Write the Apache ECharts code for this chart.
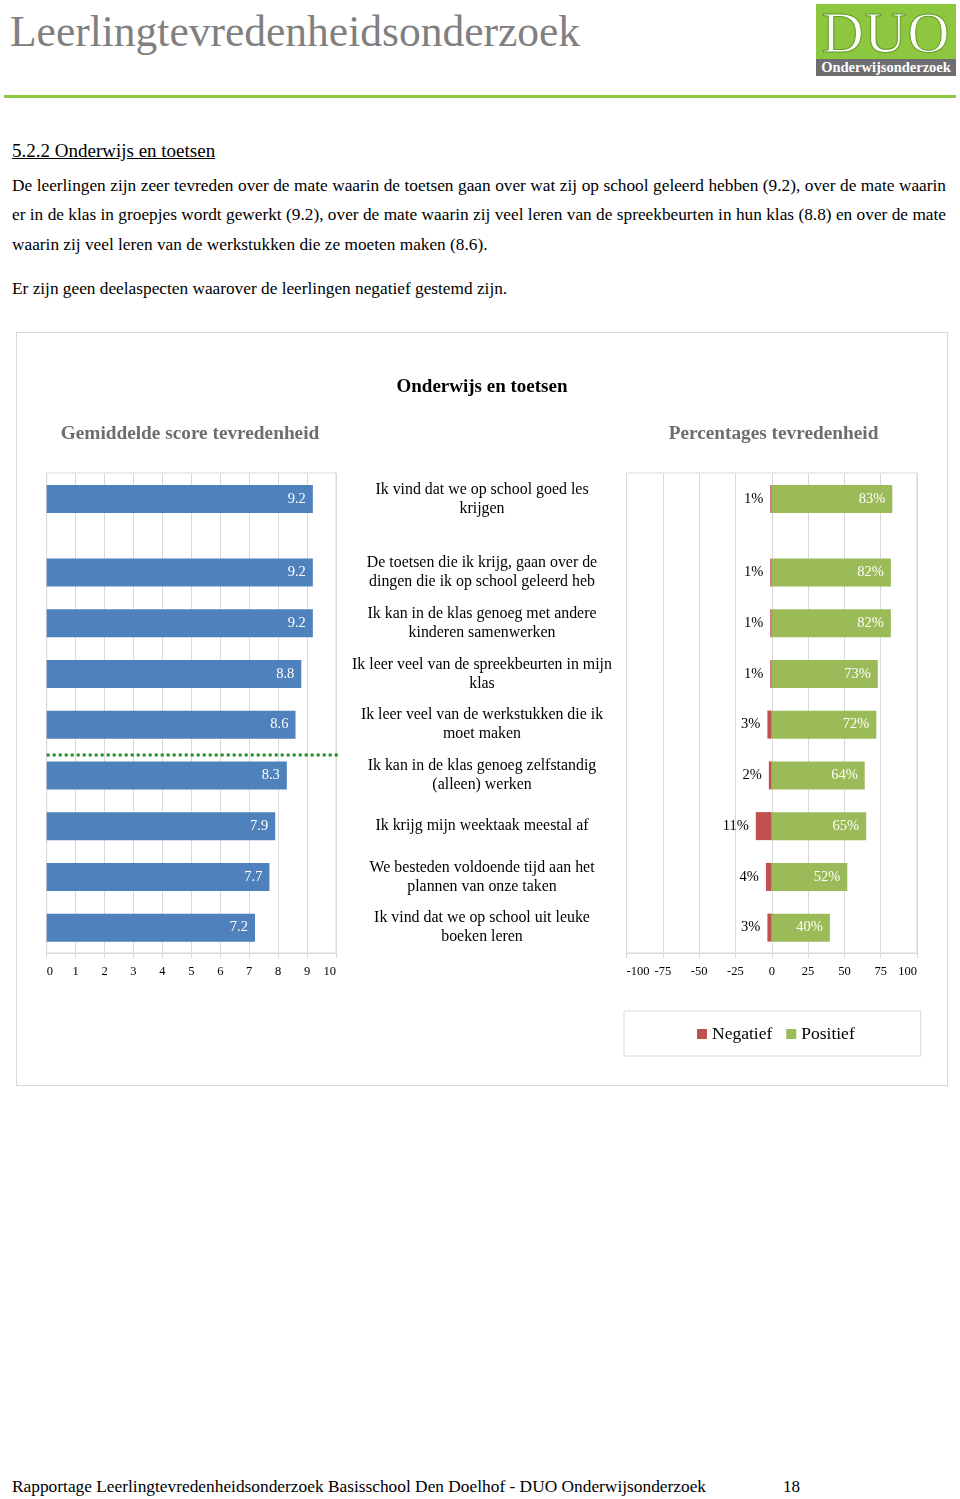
<!DOCTYPE html>
<html>
<head>
<meta charset="utf-8">
<script src="https://cdn.jsdelivr.net/npm/echarts@6/dist/echarts.min.js"></script>
<style>
  html, body { margin: 0; padding: 0; background: #fff; }
  body { width: 960px; height: 1499px; position: relative; font-family: "Liberation Serif", "Times New Roman", serif; color: #000; }
  .abs { position: absolute; white-space: nowrap; }
  #title { left: 10px; top: 6px; font-size: 43.5px; color: #808080; line-height: 50px; }
  #rule { left: 4px; top: 95px; width: 952px; height: 3px; background: #8dc63f; }
  #logo { left: 816px; top: 4px; width: 140px; height: 72px; background: #8dc63f; }
  #logo .duo { position: absolute; left: 0; top: 1px; width: 140px; text-align: center; font-size: 58px; line-height: 56px; color: #fff; letter-spacing: 1px; -webkit-text-stroke: 1px #5f9a22; font-family: "Liberation Serif", serif; }
  #logo .band { position: absolute; left: 0; top: 55px; width: 140px; height: 17px; background: #6d6e71; color: #fff; font-weight: bold; font-size: 14.5px; line-height: 17px; text-align: center; }
  #h3 { left: 12px; top: 139px; font-size: 19px; text-decoration: underline; line-height: 24px; }
  .line { position: absolute; left: 12px; width: 934px; font-size: 17.3px; line-height: 20px; text-align: justify; text-align-last: justify; white-space: nowrap; }
  .plain { position: absolute; left: 12px; font-size: 17.3px; line-height: 20px; white-space: nowrap; }
  #box { position: absolute; left: 16px; top: 332px; width: 930px; height: 752px; border: 1px solid #d9d9d9; }
  #chart { width: 930px; height: 752px; }
  #footer { left: 12px; top: 1477px; font-size: 17.35px; line-height: 20px; }
  #page { left: 783px; top: 1477px; font-size: 17px; line-height: 20px; }
</style>
</head>
<body>
<div class="abs" id="title">Leerlingtevredenheidsonderzoek</div>
<div class="abs" id="logo"><div class="duo">DUO</div><div class="band">Onderwijsonderzoek</div></div>
<div class="abs" id="rule"></div>
<div class="abs" id="h3">5.2.2 Onderwijs en toetsen</div>
<div class="line" style="top:176px">De leerlingen zijn zeer tevreden over de mate waarin de toetsen gaan over wat zij op school geleerd hebben (9.2), over de mate waarin</div>
<div class="line" style="top:205px">er in de klas in groepjes wordt gewerkt (9.2), over de mate waarin zij veel leren van de spreekbeurten in hun klas (8.8) en over de mate</div>
<div class="plain" style="top:235px">waarin zij veel leren van de werkstukken die ze moeten maken (8.6).</div>
<div class="plain" style="top:279px">Er zijn geen deelaspecten waarover de leerlingen negatief gestemd zijn.</div>
<div id="box"><div id="chart"></div></div>
<div class="abs" id="footer">Rapportage Leerlingtevredenheidsonderzoek Basisschool Den Doelhof - DUO Onderwijsonderzoek</div>
<div class="abs" id="page">18</div>
<script>
// ---- data ----
const statements = [
  "Ik vind dat we op school goed les\nkrijgen",
  "De toetsen die ik krijg, gaan over de\ndingen die ik op school geleerd heb",
  "Ik kan in de klas genoeg met andere\nkinderen samenwerken",
  "Ik leer veel van de spreekbeurten in mijn\nklas",
  "Ik leer veel van de werkstukken die ik\nmoet maken",
  "Ik kan in de klas genoeg zelfstandig\n(alleen) werken",
  "Ik krijg mijn weektaak meestal af",
  "We besteden voldoende tijd aan het\nplannen van onze taken",
  "Ik vind dat we op school uit leuke\nboeken leren"
];
const meanScores = [9.2, 9.2, 9.2, 8.8, 8.6, 8.3, 7.9, 7.7, 7.2];
const negativePct = [1, 1, 1, 1, 3, 2, 11, 4, 3];
const positivePct = [83, 82, 82, 73, 72, 64, 65, 52, 40];
const scoreTicks = { min: 0, max: 10, interval: 1 };
const pctTicks = { min: -100, max: 100, interval: 25 };
const dividerAfter = 4; // dotted line below this statement index
const seriesNames = ["Negatief", "Positief"];

// ---- styles ----
const FONT = "Liberation Serif";
const BLUE = "#4f81bd", RED = "#c0504d", GREEN = "#9bbb59", GRIDC = "#d9d9d9";

const chart = echarts.init(document.getElementById("chart"));

const L = { left: 29.7, width: 289.3 };
const R = { left: 609.5, width: 290.5 };
const topAll = 140, hAll = 480;
const top1 = 140, h1 = 52;
const top2 = 214, h2 = 406;

const headMeans = meanScores.slice(0, 1), restMeans = meanScores.slice(1);
const headNeg = negativePct.slice(0, 1).map(v => -v), restNeg = negativePct.slice(1).map(v => -v);
const headPos = positivePct.slice(0, 1), restPos = positivePct.slice(1);
const headCat = statements.slice(0, 1), restCat = statements.slice(1);

function bgX(gi, t) {
  return {
    gridIndex: gi, type: "value", min: t.min, max: t.max, interval: t.interval,
    axisLine: { show: true, lineStyle: { color: GRIDC } },
    axisTick: { show: true, length: 5, lineStyle: { color: GRIDC } },
    axisLabel: { color: "#000", fontFamily: FONT, fontSize: 12.5, margin: 12, alignMinLabel: "left", alignMaxLabel: "right" },
    splitLine: { show: true, lineStyle: { color: GRIDC } }
  };
}
function hiddenX(gi, t) {
  return { gridIndex: gi, type: "value", min: t.min, max: t.max, show: false, splitLine: { show: false } };
}
function catY(gi, cats, showLabels) {
  return {
    gridIndex: gi, type: "category", data: cats, inverse: true,
    axisLine: { show: false }, axisTick: { show: false }, splitLine: { show: false },
    axisLabel: showLabels ? {
      show: true, color: "#000", fontFamily: FONT, fontSize: 15.9, lineHeight: 19,
      align: "center", margin: R.left - 465
    } : { show: false }
  };
}

const meanLabel = { show: true, position: "insideRight", distance: 7, color: "#fff", fontFamily: FONT, fontSize: 14.5, formatter: p => p.value.toFixed(1) };
const negLabel = { show: true, position: "left", distance: 7, color: "#000", fontFamily: FONT, fontSize: 14.5, formatter: p => Math.abs(p.value) + "%" };
const posLabel = { show: true, position: "insideRight", distance: 7, color: "#fff", fontFamily: FONT, fontSize: 14.5, formatter: p => p.value + "%" };

const option = {
  animation: false,
  title: [
    { text: "Onderwijs en toetsen", left: 465, top: 45, textAlign: "center", padding: 0,
      textStyle: { fontFamily: FONT, fontSize: 19, fontWeight: "bold", color: "#000" } },
    { text: "Gemiddelde score tevredenheid", left: 173, top: 92, textAlign: "center", padding: 0,
      textStyle: { fontFamily: FONT, fontSize: 19.3, fontWeight: "bold", color: "#6e6e6e" } },
    { text: "Percentages tevredenheid", left: 756.5, top: 92, textAlign: "center", padding: 0,
      textStyle: { fontFamily: FONT, fontSize: 19.3, fontWeight: "bold", color: "#6e6e6e" } }
  ],
  legend: {
    data: seriesNames, left: 607, top: 678,
    icon: "rect", itemWidth: 10, itemHeight: 10, itemGap: 14,
    padding: [14, 66, 13, 73], borderColor: GRIDC, borderWidth: 1,
    textStyle: { fontFamily: FONT, fontSize: 17.5, color: "#000" }
  },
  grid: [
    { left: L.left, top: topAll, width: L.width, height: hAll, show: true, borderColor: GRIDC, borderWidth: 1 },
    { left: L.left, top: top1, width: L.width, height: h1 },
    { left: L.left, top: top2, width: L.width, height: h2 },
    { left: R.left, top: topAll, width: R.width, height: hAll, show: true, borderColor: GRIDC, borderWidth: 1 },
    { left: R.left, top: top1, width: R.width, height: h1 },
    { left: R.left, top: top2, width: R.width, height: h2 }
  ],
  xAxis: [
    bgX(0, scoreTicks), hiddenX(1, scoreTicks), hiddenX(2, scoreTicks),
    bgX(3, pctTicks), hiddenX(4, pctTicks), hiddenX(5, pctTicks)
  ],
  yAxis: [
    { gridIndex: 0, type: "value", min: 0, max: 1, show: false, splitLine: { show: false } },
    catY(1, headCat, false), catY(2, restCat, false),
    { gridIndex: 3, type: "value", min: 0, max: 1, show: false, splitLine: { show: false } },
    catY(4, headCat, true), catY(5, restCat, true)
  ],
  series: [
    { type: "bar", name: "Gemiddelde", xAxisIndex: 1, yAxisIndex: 1, data: headMeans, barWidth: 28, itemStyle: { color: BLUE }, label: meanLabel },
    { type: "bar", name: "Gemiddelde", xAxisIndex: 2, yAxisIndex: 2, data: restMeans, barWidth: 28, itemStyle: { color: BLUE }, label: meanLabel },
    { type: "bar", name: seriesNames[0], xAxisIndex: 4, yAxisIndex: 4, stack: "a", data: headNeg, barWidth: 28, itemStyle: { color: RED }, label: negLabel },
    { type: "bar", name: seriesNames[1], xAxisIndex: 4, yAxisIndex: 4, stack: "a", data: headPos, barWidth: 28, itemStyle: { color: GREEN }, label: posLabel },
    { type: "bar", name: seriesNames[0], xAxisIndex: 5, yAxisIndex: 5, stack: "b", data: restNeg, barWidth: 28, itemStyle: { color: RED }, label: negLabel },
    { type: "bar", name: seriesNames[1], xAxisIndex: 5, yAxisIndex: 5, stack: "b", data: restPos, barWidth: 28, itemStyle: { color: GREEN }, label: posLabel }
  ]
};
chart.setOption(option);

// dotted divider between two statements, positioned through the library's scales
const idxA = dividerAfter - 1, idxB = dividerAfter; // indices in the "rest" group
const yA = chart.convertToPixel({ gridIndex: 2 }, [0, idxA])[1];
const yB = chart.convertToPixel({ gridIndex: 2 }, [0, idxB])[1];
const x0 = chart.convertToPixel({ gridIndex: 2 }, [scoreTicks.min, idxA])[0];
const x1 = chart.convertToPixel({ gridIndex: 2 }, [scoreTicks.max, idxA])[0];
const yMid = (yA + yB) / 2;
chart.setOption({
  graphic: [{
    type: "line", silent: true,
    shape: { x1: x0, y1: yMid + 5, x2: x1 + 2, y2: yMid + 5 },
    style: { stroke: "#1e8c1e", lineWidth: 3, lineDash: [3, 3] }
  }]
});
</script>
</body>
</html>
